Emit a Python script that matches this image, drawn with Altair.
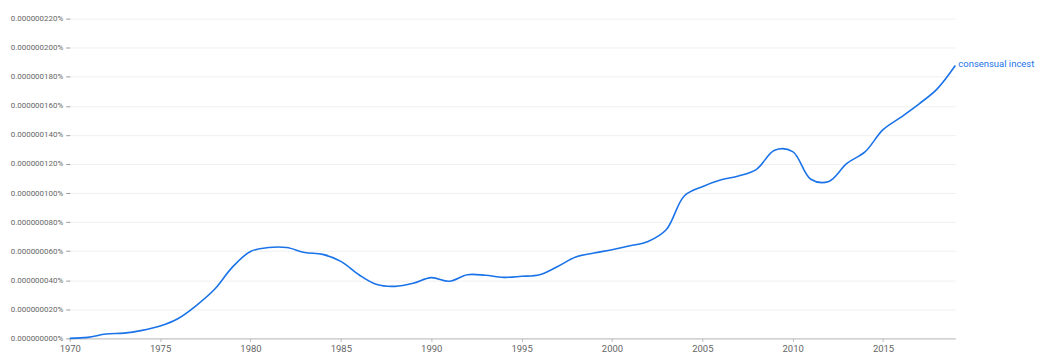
import altair as alt
import pandas as pd

years = list(range(1970, 2020))
values = [
    0.0, 0.0007, 0.003, 0.0036, 0.0055, 0.0085, 0.0137, 0.0226, 0.0336, 0.049,
    0.0598, 0.0625, 0.0625, 0.0591, 0.0578, 0.053, 0.0438, 0.037, 0.0358, 0.0379,
    0.0418, 0.0393, 0.0438, 0.0434, 0.042, 0.0427, 0.0438, 0.0495, 0.056, 0.0587,
    0.061, 0.0637, 0.0667, 0.0747, 0.098, 0.1044, 0.109, 0.1117, 0.1163, 0.1295,
    0.1285, 0.1095, 0.108, 0.1204, 0.1283, 0.1436, 0.1523, 0.1614, 0.1717, 0.1877,
]
series_name = "consensual incest"
y_ticks = [0.0, 0.02, 0.04, 0.06, 0.08, 0.10, 0.12, 0.14, 0.16, 0.18, 0.20, 0.22]
x_ticks = [1970, 1975, 1980, 1985, 1990, 1995, 2000, 2005, 2010, 2015]

df = pd.DataFrame({"year": years, "value": values, "name": series_name})
last = df.tail(1)

BLUE = "#1a73e8"
FONT = "Roboto"

x_enc = alt.X(
    "year:Q",
    scale=alt.Scale(domain=[1970, 2019], nice=False, zero=False),
    axis=alt.Axis(
        values=x_ticks, format="d", title=None, grid=False,
        labelFlush=False, labelOverlap=False,
        domainColor="#bbbbbb", tickColor="#bbbbbb", tickSize=3,
        labelColor="#666666", labelFont=FONT, labelFontSize=9.5, labelPadding=2,
    ),
)
y_enc = alt.Y(
    "value:Q",
    scale=alt.Scale(domain=[0, 0.22], nice=False),
    axis=alt.Axis(
        values=y_ticks, title=None, domain=False,
        labelFlush=False, labelOverlap=False,
        labelExpr='"0.000000" + slice(format(datum.value, ".3f"), 2) + "%"',
        gridColor="#f0f0f0", tickColor="#999999", tickSize=4,
        labelColor="#666666", labelFont=FONT, labelFontSize=8, labelPadding=3,
    ),
)

line = alt.Chart(df).mark_line(
    interpolate="catmull-rom", color=BLUE, strokeWidth=1.6
).encode(x=x_enc, y=y_enc)

label = alt.Chart(last).mark_text(
    align="left", baseline="middle", dx=3, dy=-2, color=BLUE, font=FONT, fontSize=9.5
).encode(x=x_enc, y=y_enc, text="name:N")

chart = (
    alt.layer(line, label)
    .properties(
        width=889, height=321,
        autosize=alt.AutoSizeParams(type="none"),
        padding={"left": 62, "top": 10, "right": 87, "bottom": 14},
    )
    .configure_view(stroke=None)
)

chart.save("out.html", embed_options={"renderer": "svg", "actions": False})
